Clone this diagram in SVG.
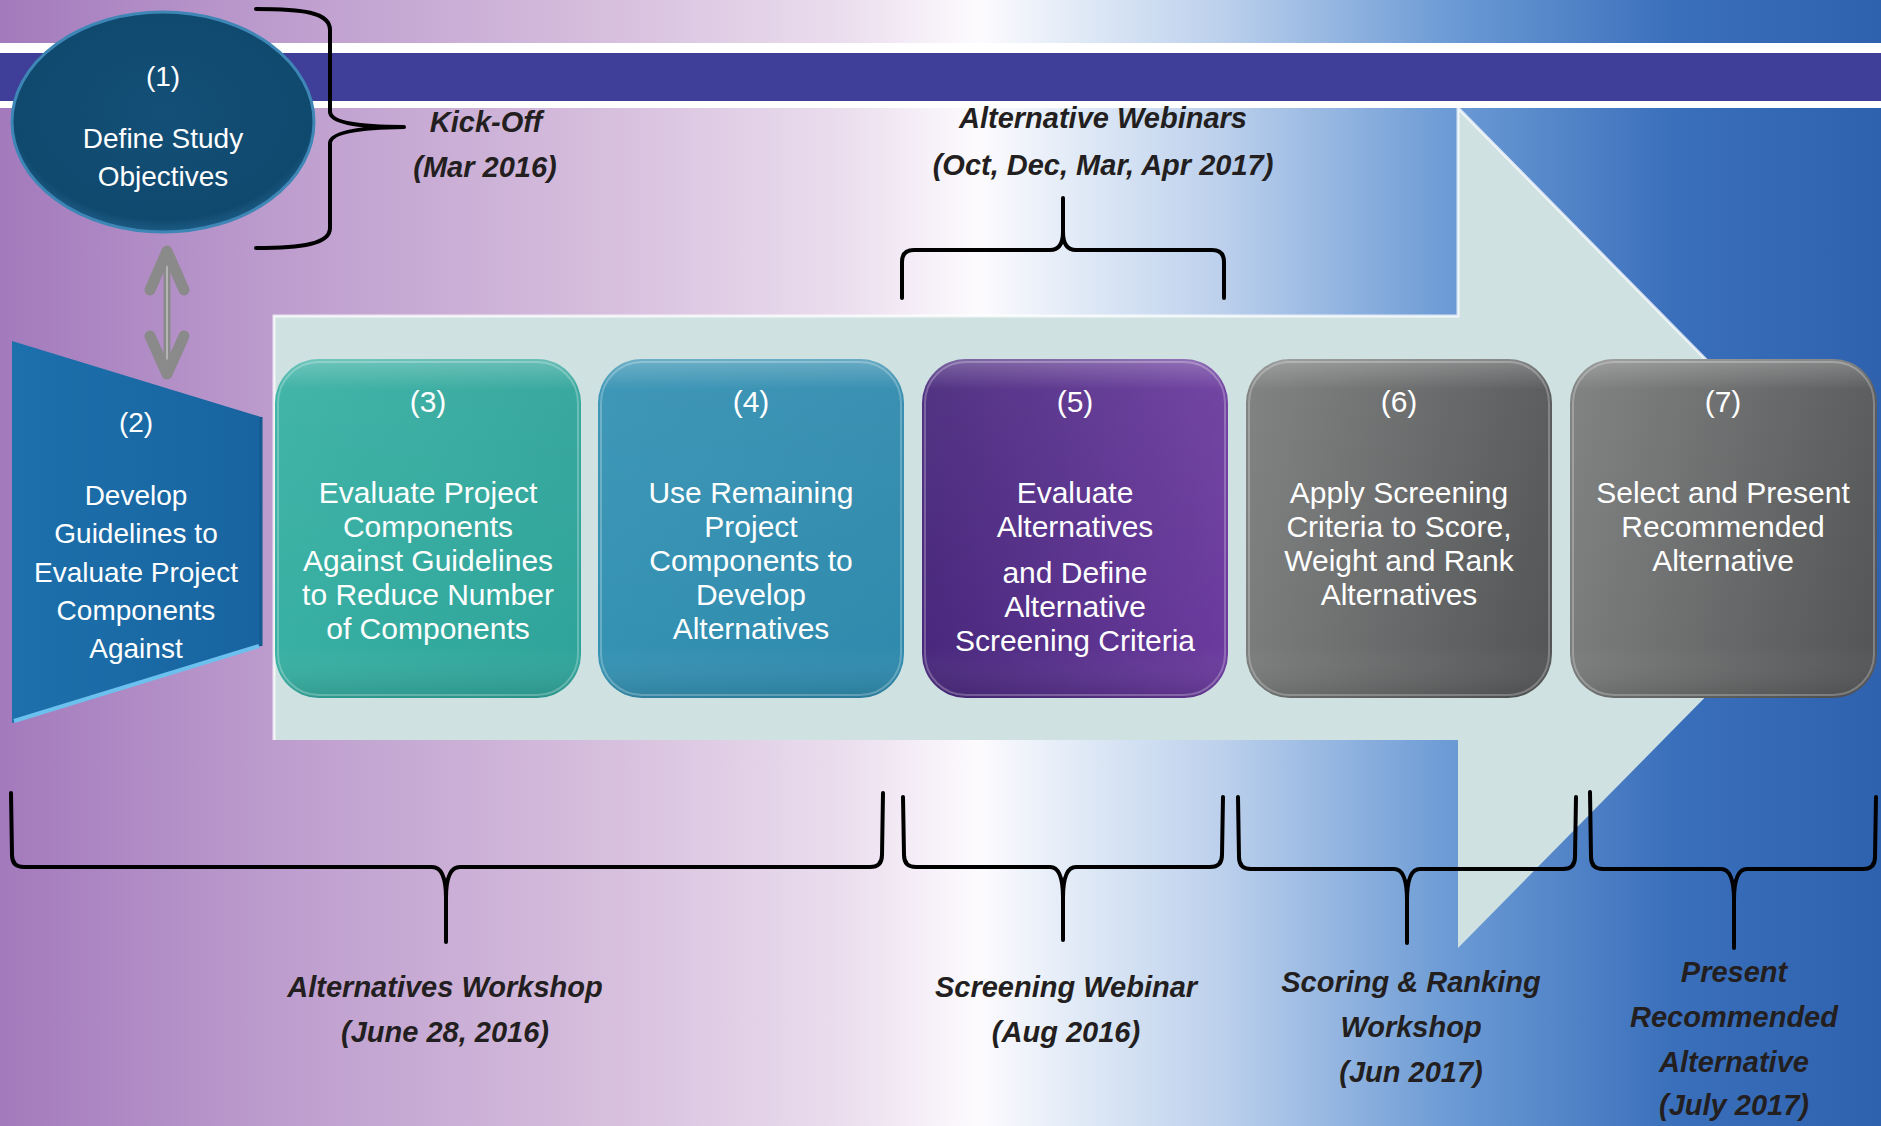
<svg xmlns="http://www.w3.org/2000/svg" width="1881" height="1126" viewBox="0 0 1881 1126">
<defs>
  <linearGradient id="bg" x1="0" y1="0" x2="1881" y2="0" gradientUnits="userSpaceOnUse">
    <stop offset="0" stop-color="#a37abc"/>
    <stop offset="0.16" stop-color="#bf9fcf"/>
    <stop offset="0.32" stop-color="#d6bedd"/>
    <stop offset="0.45" stop-color="#ebdeee"/>
    <stop offset="0.52" stop-color="#fdfbfe"/>
    <stop offset="0.57" stop-color="#e2ebf7"/>
    <stop offset="0.65" stop-color="#bcd0ec"/>
    <stop offset="0.77" stop-color="#6c9bd5"/>
    <stop offset="0.89" stop-color="#3a6fbb"/>
    <stop offset="1" stop-color="#2e62ae"/>
  </linearGradient>
  <linearGradient id="g3" x1="0" y1="0" x2="1" y2="0"><stop offset="0" stop-color="#38b0a3"/><stop offset="1" stop-color="#2fa49a"/></linearGradient>
  <linearGradient id="g4" x1="0" y1="0" x2="1" y2="0"><stop offset="0" stop-color="#3592b3"/><stop offset="1" stop-color="#2f8aad"/></linearGradient>
  <linearGradient id="g5" x1="0" y1="0" x2="1" y2="0"><stop offset="0" stop-color="#48287c"/><stop offset="1" stop-color="#6b3b9e"/></linearGradient>
  <linearGradient id="g6" x1="0" y1="0" x2="1" y2="0"><stop offset="0" stop-color="#7b7c7c"/><stop offset="1" stop-color="#545556"/></linearGradient>
  <linearGradient id="g2" x1="0" y1="0" x2="1" y2="0"><stop offset="0" stop-color="#1c70ab"/><stop offset="1" stop-color="#1864a0"/></linearGradient>
  <linearGradient id="gloss" x1="0" y1="0" x2="0" y2="1">
    <stop offset="0" stop-color="#fff" stop-opacity="0.28"/>
    <stop offset="0.09" stop-color="#fff" stop-opacity="0.05"/>
    <stop offset="0.85" stop-color="#fff" stop-opacity="0"/>
    <stop offset="1" stop-color="#000" stop-opacity="0.12"/>
  </linearGradient>
  <radialGradient id="ell" cx="0.5" cy="0.45" r="0.55">
    <stop offset="0" stop-color="#134f77"/>
    <stop offset="0.9" stop-color="#10496e"/>
    <stop offset="1" stop-color="#1d5c86"/>
  </radialGradient>
  <style>
    .nt{font-family:"Liberation Sans",Arial,sans-serif;fill:#ffffff;text-anchor:middle;font-size:30px}
    .n2{font-size:28px}
    .lb{font-family:"Liberation Sans",Arial,sans-serif;font-weight:bold;font-style:italic;fill:#231f20;text-anchor:middle;font-size:29px}
    .br{fill:none;stroke:#000;stroke-width:4;stroke-linecap:round;stroke-linejoin:round}
    .hl{fill:none;stroke:#ffffff;stroke-opacity:0.25;stroke-width:2}
    .gl{fill:url(#gloss)}
  </style>
</defs>

<!-- background -->
<rect x="0" y="0" width="1881" height="1126" fill="url(#bg)"/>
<rect x="0" y="43" width="1881" height="10" fill="#ffffff"/>
<rect x="0" y="53" width="1881" height="48" fill="#3f3f99"/>
<rect x="0" y="101" width="1881" height="7" fill="#ffffff"/>

<!-- big process arrow -->
<g id="process-arrow">
  <path d="M274,316 L1458,316 L1458,108 L1872,528 L1458,948 L1458,740 L274,740 Z" fill="#cfe2e1"/>
  <path d="M274,740 L274,316 L1458,316 L1458,108 L1872,528" fill="none" stroke="#ffffff" stroke-opacity="0.75" stroke-width="3"/>
</g>

<!-- brackets -->
<g id="brackets">
  <path class="br" d="M256,9 C302,9 330,12 330,30 L330,112 Q331,127 404,127 M404,127 Q331,128 330,143 L330,228 C330,244 302,248 256,248"/>
  <path class="br" d="M902,298 L902,262 Q902,250 914,250 L1050,250 Q1063,250 1063,232 L1063,198 M1063,232 Q1063,250 1076,250 L1212,250 Q1224,250 1224,262 L1224,298"/>
  <path class="br" d="M11,793 L12,855 Q12,867 24,867 L432,867 Q446,867 446,898 L446,942 M446,898 Q446,867 460,867 L870,867 Q882,867 882,855 L883,793"/>
  <path class="br" d="M903,797 L904,855 Q904,867 916,867 L1050,867 Q1063,867 1063,898 L1063,940 M1063,898 Q1063,867 1076,867 L1210,867 Q1222,867 1222,855 L1223,797"/>
  <path class="br" d="M1238,797 L1239,857 Q1239,869 1251,869 L1394,869 Q1407,869 1407,900 L1407,943 M1407,900 Q1407,869 1420,869 L1563,869 Q1575,869 1575,857 L1576,797"/>
  <path class="br" d="M1590,792 L1591,857 Q1591,869 1603,869 L1721,869 Q1734,869 1734,900 L1734,948 M1734,900 Q1734,869 1747,869 L1863,869 Q1875,869 1875,857 L1876,797"/>
</g>

<!-- connector: double arrow between (1) and (2) -->
<g id="connectors">
  <line x1="167" y1="256" x2="167" y2="369" stroke="#8a8a8a" stroke-width="7"/>
  <line x1="167" y1="262" x2="167" y2="363" stroke="#b4b4b4" stroke-width="2"/>
  <polyline points="150,290 167,251 184,290" fill="none" stroke="#8a8a8a" stroke-width="11" stroke-linecap="round" stroke-linejoin="round"/>
  <polyline points="150,336 167,374 184,336" fill="none" stroke="#8a8a8a" stroke-width="11" stroke-linecap="round" stroke-linejoin="round"/>
</g>

<!-- node 1 -->
<g id="node1">
  <ellipse cx="163" cy="122" rx="151" ry="110" fill="url(#ell)" stroke="#3d86b6" stroke-width="3"/>
  <text class="nt n2" x="163" y="86">(1)</text>
  <text class="nt n2" x="163" y="148">Define Study</text>
  <text class="nt n2" x="163" y="186">Objectives</text>
</g>

<!-- node 2 -->
<g id="node2">
  <polygon points="12,341 261,417 261,646 12,723" fill="url(#g2)"/>
  <line x1="261" y1="417" x2="261" y2="646" stroke="#155a8d" stroke-width="3"/>
  <line x1="14" y1="721" x2="259" y2="646" stroke="#6cc0ee" stroke-width="4"/>
  <text class="nt n2" x="136" y="432">(2)</text>
  <text class="nt n2" x="136" y="505">Develop</text>
  <text class="nt n2" x="136" y="543">Guidelines to</text>
  <text class="nt n2" x="136" y="582">Evaluate Project</text>
  <text class="nt n2" x="136" y="620">Components</text>
  <text class="nt n2" x="136" y="658">Against</text>
</g>

<!-- node 3 -->
<g id="node3">
  <rect x="275" y="359" width="306" height="339" rx="44" fill="url(#g3)"/>
  <rect x="275" y="359" width="306" height="339" rx="44" class="gl"/>
  <rect x="278" y="362" width="300" height="333" rx="41" class="hl"/>
  <text class="nt" x="428" y="412">(3)</text>
  <text class="nt" x="428" y="503">Evaluate Project</text>
  <text class="nt" x="428" y="537">Components</text>
  <text class="nt" x="428" y="571">Against Guidelines</text>
  <text class="nt" x="428" y="605">to Reduce Number</text>
  <text class="nt" x="428" y="639">of Components</text>
</g>

<!-- node 4 -->
<g id="node4">
  <rect x="598" y="359" width="306" height="339" rx="44" fill="url(#g4)"/>
  <rect x="598" y="359" width="306" height="339" rx="44" class="gl"/>
  <rect x="601" y="362" width="300" height="333" rx="41" class="hl"/>
  <text class="nt" x="751" y="412">(4)</text>
  <text class="nt" x="751" y="503">Use Remaining</text>
  <text class="nt" x="751" y="537">Project</text>
  <text class="nt" x="751" y="571">Components to</text>
  <text class="nt" x="751" y="605">Develop</text>
  <text class="nt" x="751" y="639">Alternatives</text>
</g>

<!-- node 5 -->
<g id="node5">
  <rect x="922" y="359" width="306" height="339" rx="44" fill="url(#g5)"/>
  <rect x="922" y="359" width="306" height="339" rx="44" class="gl"/>
  <rect x="925" y="362" width="300" height="333" rx="41" class="hl"/>
  <text class="nt" x="1075" y="412">(5)</text>
  <text class="nt" x="1075" y="503">Evaluate</text>
  <text class="nt" x="1075" y="537">Alternatives</text>
  <text class="nt" x="1075" y="583">and Define</text>
  <text class="nt" x="1075" y="617">Alternative</text>
  <text class="nt" x="1075" y="651">Screening Criteria</text>
</g>

<!-- node 6 -->
<g id="node6">
  <rect x="1246" y="359" width="306" height="339" rx="44" fill="url(#g6)"/>
  <rect x="1246" y="359" width="306" height="339" rx="44" class="gl"/>
  <rect x="1249" y="362" width="300" height="333" rx="41" class="hl"/>
  <text class="nt" x="1399" y="412">(6)</text>
  <text class="nt" x="1399" y="503">Apply Screening</text>
  <text class="nt" x="1399" y="537">Criteria to Score,</text>
  <text class="nt" x="1399" y="571">Weight and Rank</text>
  <text class="nt" x="1399" y="605">Alternatives</text>
</g>

<!-- node 7 -->
<g id="node7">
  <rect x="1570" y="359" width="307" height="339" rx="44" fill="url(#g6)"/>
  <rect x="1570" y="359" width="307" height="339" rx="44" class="gl"/>
  <rect x="1573" y="362" width="301" height="333" rx="41" class="hl"/>
  <text class="nt" x="1723" y="412">(7)</text>
  <text class="nt" x="1723" y="503">Select and Present</text>
  <text class="nt" x="1723" y="537">Recommended</text>
  <text class="nt" x="1723" y="571">Alternative</text>
</g>

<!-- labels -->
<g id="labels">
  <text class="lb" x="486" y="132">Kick-Off</text>
  <text class="lb" x="485" y="177">(Mar 2016)</text>
  <text class="lb" x="1103" y="128">Alternative Webinars</text>
  <text class="lb" x="1103" y="175">(Oct, Dec, Mar, Apr 2017)</text>
  <text class="lb" x="445" y="997">Alternatives Workshop</text>
  <text class="lb" x="445" y="1042">(June 28, 2016)</text>
  <text class="lb" x="1066" y="997">Screening Webinar</text>
  <text class="lb" x="1066" y="1042">(Aug 2016)</text>
  <text class="lb" x="1411" y="992">Scoring &amp; Ranking</text>
  <text class="lb" x="1411" y="1037">Workshop</text>
  <text class="lb" x="1411" y="1082">(Jun 2017)</text>
  <text class="lb" x="1734" y="982">Present</text>
  <text class="lb" x="1734" y="1027">Recommended</text>
  <text class="lb" x="1734" y="1072">Alternative</text>
  <text class="lb" x="1734" y="1115">(July 2017)</text>
</g>
</svg>
